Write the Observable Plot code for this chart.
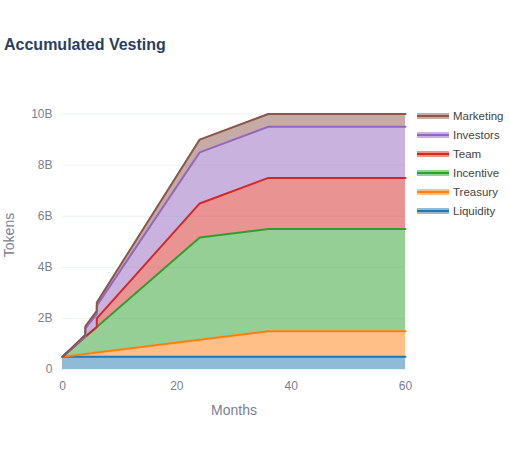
<!DOCTYPE html>
<html>
<head>
<meta charset="utf-8">
<script src="https://cdn.jsdelivr.net/npm/d3@7"></script>
<script src="https://cdn.jsdelivr.net/npm/@observablehq/plot@0.6"></script>
<style>
  html, body { margin: 0; padding: 0; background: #fff; }
  #wrap { position: relative; width: 509px; height: 450px; font-family: "Liberation Sans", Arial, sans-serif; }
  #title { position: absolute; left: 4px; top: 36px; font-size: 16px; font-weight: bold; color: #2a3f5f; }
  #legend { position: absolute; left: 417px; top: 106px; font-size: 11.5px; color: #444; }
  .item { height: 19px; display: flex; align-items: center; }
  .sym { position: relative; width: 32px; height: 8px; margin-right: 4px; }
  .sym .f { position: absolute; left: 0; top: 1px; width: 32px; height: 6px; opacity: 0.5; }
  .sym .l { position: absolute; left: 0; top: 3px; width: 32px; height: 2px; }
</style>
</head>
<body>
<div id="wrap">
  <div id="chart"></div>
  <div id="title">Accumulated Vesting</div>
  <div id="legend"></div>
</div>
<script>
// Months at which vesting changes (repeated months are cliff unlocks)
const months = [0, 4, 4, 6, 6, 24, 36, 60];
// Tokens (billions) per category at each month
const series = ["Liquidity", "Treasury", "Incentive", "Team", "Investors", "Marketing"];
const liquidity = [0.5, 0.5, 0.5, 0.5, 0.5, 0.5, 0.5, 0.5];
const treasury  = [0, 0.111, 0.111, 0.167, 0.167, 0.667, 1.0, 1.0];
const incentive = [0, 0.667, 0.667, 1.0, 1.0, 4.0, 4.0, 4.0];
const team      = [0, 0, 0, 0, 0.333, 1.333, 2.0, 2.0];
const investors = [0, 0, 0.333, 0.5, 0.5, 2.0, 2.0, 2.0];
const marketing = [0, 0.083, 0.083, 0.125, 0.125, 0.5, 0.5, 0.5];
const colors = ["#1f77b4", "#ff7f0e", "#2ca02c", "#d62728", "#9467bd", "#8c564b"];
const yTicks = [0, 2, 4, 6, 8, 10];
const xTicks = [0, 20, 40, 60];

const values = [liquidity, treasury, incentive, team, investors, marketing];
const rows = [];
const base = months.map(() => 0);
series.forEach((s, k) => {
  months.forEach((m, i) => {
    rows.push({series: s, x: m, y1: base[i], y2: base[i] + values[k][i]});
    base[i] += values[k][i];
  });
});

const chart = Plot.plot({
  width: 509,
  height: 450,
  marginTop: 100,
  marginBottom: 81,
  marginLeft: 62,
  marginRight: 104,
  style: {fontFamily: "'Liberation Sans', Arial, sans-serif", fontSize: "12px", color: "#7a7f91", background: "#fff"},
  x: {domain: [0, 60]},
  y: {domain: [0, 10.53]},
  color: {domain: series, range: colors},
  marks: [
    Plot.gridY(yTicks, {stroke: "#ebf0f8", strokeOpacity: 1}),
    Plot.areaY(rows, {x: "x", y1: "y1", y2: "y2", z: "series", fill: "series", fillOpacity: 0.5}),
    Plot.line(rows, {x: "x", y: "y2", z: "series", stroke: "series", strokeWidth: 2}),
    Plot.axisY(yTicks, {tickSize: 0, tickPadding: 10, tickFormat: d => d === 0 ? "0" : d + "B",
      label: "Tokens", labelAnchor: "center", labelArrow: "none", labelOffset: 58, fontSize: 12}),
    Plot.axisX(xTicks, {tickSize: 0, tickPadding: 12, label: "Months", labelAnchor: "center",
      labelArrow: "none", labelOffset: 45})
  ]
});
document.getElementById("chart").appendChild(chart);
chart.querySelectorAll("[aria-label='y-axis label'] text, [aria-label='x-axis label'] text").forEach(t => t.style.fontSize = "14px");

const legend = document.getElementById("legend");
series.slice().reverse().forEach((s) => {
  const c = colors[series.indexOf(s)];
  const it = document.createElement("div");
  it.className = "item";
  it.innerHTML = `<div class="sym"><div class="f" style="background:${c}"></div><div class="l" style="background:${c}"></div></div><span>${s}</span>`;
  legend.appendChild(it);
});
</script>
</body>
</html>
